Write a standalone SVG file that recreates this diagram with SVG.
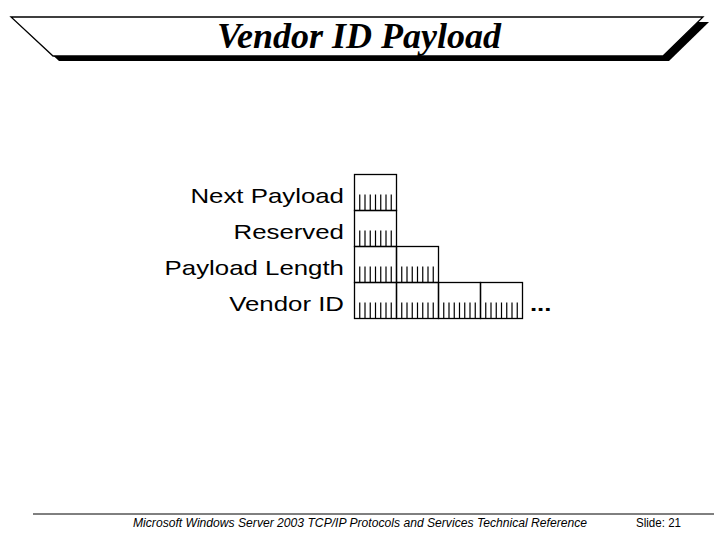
<svg xmlns="http://www.w3.org/2000/svg" xmlns:xlink="http://www.w3.org/1999/xlink" width="720" height="540" viewBox="0 0 720 540">
  <style>
    .lbl { font-family: "Liberation Sans", Arial, sans-serif; font-size: 20.5px; fill: #000; text-anchor: end; }
    .title { font-family: "Liberation Serif", "Times New Roman", serif; font-size: 36px; font-weight: bold; font-style: italic; fill: #000; }
    .foot { font-family: "Liberation Sans", Arial, sans-serif; font-size: 12px; fill: #000; }
    .box { fill: none; stroke: #000; stroke-width: 1.3; }
    .tick { stroke: #000; stroke-width: 1.2; }
  </style>
  <defs>
    <g id="byte">
      <rect class="box" x="0" y="0" width="42" height="36"/>
      <path class="tick" d="M5.25 20V36M10.5 20V36M15.75 20V36M21 20V36M26.25 20V36M31.5 20V36M36.75 20V36"/>
    </g>
  </defs>
  <rect width="720" height="540" fill="#fff"/>

  <g id="title-banner">
    <polygon points="17,22 709,22 669,61 59,61" fill="#000"/>
    <polygon points="11,17 703,17 663,56 53,56" fill="#fff" stroke="#000" stroke-width="1.3"/>
    <text class="title" x="217" y="48">Vendor ID Payload</text>
  </g>

  <g id="labels" transform="scale(1.26 1)">
    <text class="lbl" x="273" y="203">Next Payload</text>
    <text class="lbl" x="273" y="239">Reserved</text>
    <text class="lbl" x="273" y="275">Payload Length</text>
    <text class="lbl" x="273" y="311">Vendor ID</text>
  </g>

  <g id="row-next-payload">
    <use xlink:href="#byte" x="354.5" y="174.5"/>
  </g>
  <g id="row-reserved">
    <use xlink:href="#byte" x="354.5" y="210.5"/>
  </g>
  <g id="row-payload-length">
    <use xlink:href="#byte" x="354.5" y="246.5"/>
    <use xlink:href="#byte" x="396.5" y="246.5"/>
  </g>
  <g id="row-vendor-id">
    <use xlink:href="#byte" x="354.5" y="282.5"/>
    <use xlink:href="#byte" x="396.5" y="282.5"/>
    <use xlink:href="#byte" x="438.5" y="282.5"/>
    <use xlink:href="#byte" x="480.5" y="282.5"/>
    <g transform="scale(1.26 1)">
      <text class="lbl" x="420.6" y="311" style="text-anchor:start;font-weight:bold">...</text>
    </g>
  </g>

  <g id="footer">
    <line x1="33" y1="514" x2="714" y2="514" stroke="#000" stroke-width="1"/>
    <text class="foot" x="133" y="527" font-style="italic" textLength="454" lengthAdjust="spacingAndGlyphs">Microsoft Windows Server 2003 TCP/IP Protocols and Services Technical Reference</text>
    <text class="foot" x="636" y="527" textLength="45" lengthAdjust="spacingAndGlyphs">Slide: 21</text>
  </g>
</svg>
